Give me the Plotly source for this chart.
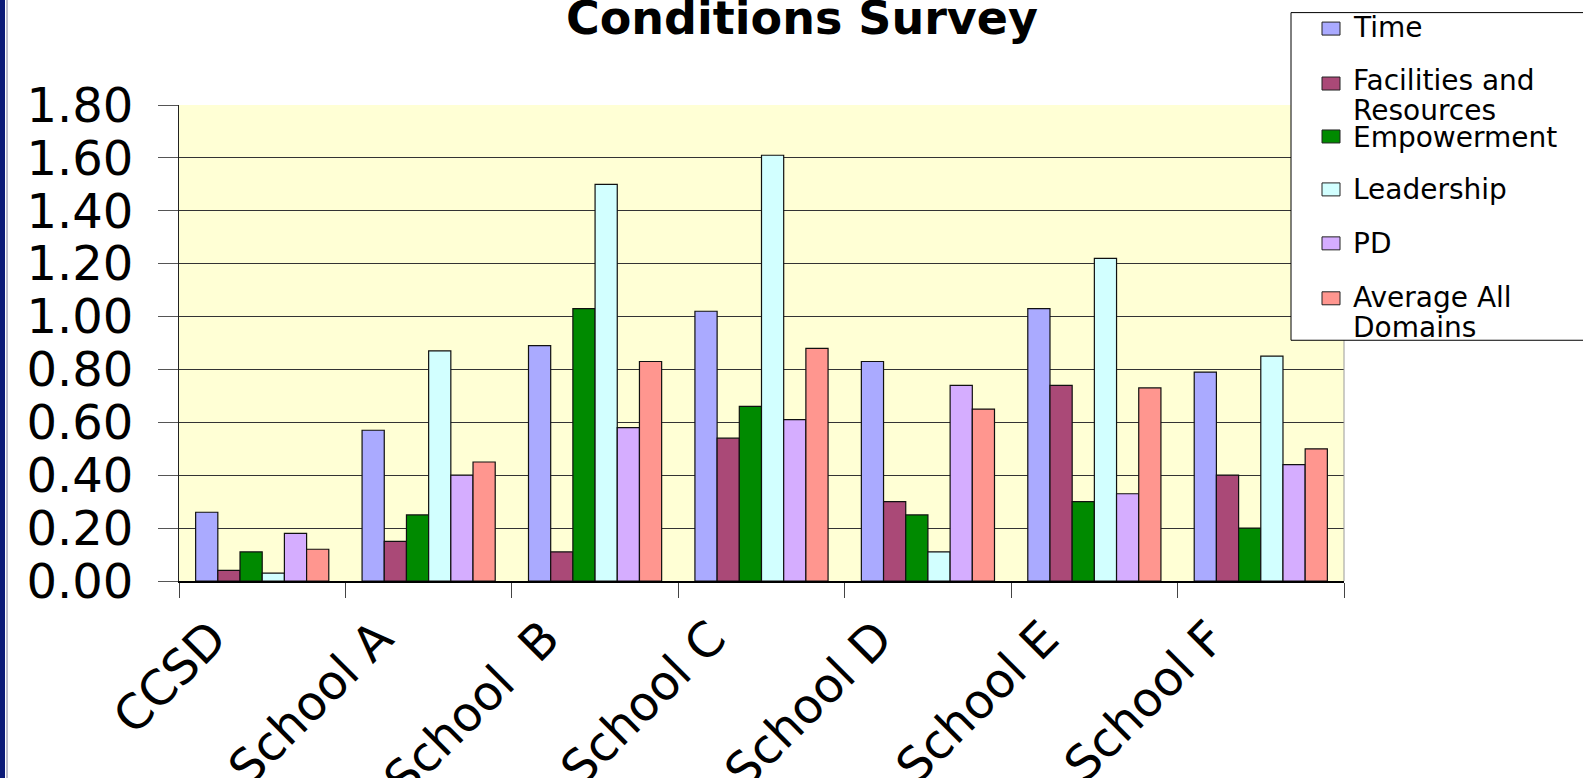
import plotly.graph_objects as go

categories = ["CCSD", "School A", "School\u00a0 B", "School C", "School D", "School E", "School F"]
series_names = ["Time", "Facilities and Resources", "Empowerment", "Leadership", "PD", "Average All Domains"]
legend_lines = [["Time"], ["Facilities and", "Resources"], ["Empowerment"], ["Leadership"], ["PD"], ["Average All", "Domains"]]

time_vals = [0.26, 0.57, 0.89, 1.02, 0.83, 1.03, 0.79]
facilities_vals = [0.04, 0.15, 0.11, 0.54, 0.30, 0.74, 0.40]
empowerment_vals = [0.11, 0.25, 1.03, 0.66, 0.25, 0.30, 0.20]
leadership_vals = [0.03, 0.87, 1.50, 1.61, 0.11, 1.22, 0.85]
pd_vals = [0.18, 0.40, 0.58, 0.61, 0.74, 0.33, 0.44]
average_vals = [0.12, 0.45, 0.83, 0.88, 0.65, 0.73, 0.50]

y_ticks = [0.0, 0.2, 0.4, 0.6, 0.8, 1.0, 1.2, 1.4, 1.6, 1.8]
colors = ["#AAAAFF", "#AA4977", "#008A00", "#D2FFFF", "#D5ADFF", "#FF968F"]
all_vals = [time_vals, facilities_vals, empowerment_vals, leadership_vals, pd_vals, average_vals]

W, H = 1583, 778
L, R, T, B = 179, 1344, 104.5, 581
pw, ph = R - L, B - T


def px(X):
    return (X - L) / pw


def py(Y):
    return (B - Y) / ph


fig = go.Figure()
for name, vals, col in zip(series_names, all_vals, colors):
    fig.add_trace(go.Bar(
        x=categories, y=vals, name=name,
        marker=dict(color=col, line=dict(color="#111111", width=1.2)),
        showlegend=False,
    ))

shapes = []
annotations = []

# left navy border
shapes.append(dict(type="rect", xref="paper", yref="paper", x0=px(-5), x1=px(5), y0=py(H + 5), y1=py(-5),
                   fillcolor="#0B1A78", line=dict(width=0), layer="above"))
shapes.append(dict(type="line", xref="paper", yref="paper", x0=px(7), x1=px(7), y0=py(H + 5), y1=py(-5),
                   line=dict(color="#7A7A9A", width=1), layer="above"))
# right plot border
shapes.append(dict(type="line", xref="paper", yref="paper", x0=1, x1=1, y0=0, y1=1,
                   line=dict(color="#9A9A9A", width=1), layer="above"))

# legend box
shapes.append(dict(type="rect", xref="paper", yref="paper", x0=px(1291), x1=px(1700), y0=py(340), y1=py(12),
                   fillcolor="white", line=dict(color="black", width=1), layer="above"))
marker_centers = [28, 83, 136, 189, 243, 298]
line_centers = [[27], [80, 110], [137], [189], [243], [297, 327]]
for col, mc, lines, lcs in zip(colors, marker_centers, legend_lines, line_centers):
    shapes.append(dict(type="rect", xref="paper", yref="paper", x0=px(1322), x1=px(1340),
                       y0=py(mc + 6.5), y1=py(mc - 6.5), fillcolor=col,
                       line=dict(color="#222222", width=1), layer="above"))
    for txt, lc in zip(lines, lcs):
        annotations.append(dict(xref="paper", yref="paper", x=px(1351), y=py(lc), text=txt,
                                showarrow=False, xanchor="left", yanchor="middle",
                                font=dict(family="DejaVu Sans", size=28, color="black")))

# title
annotations.append(dict(xref="paper", yref="paper", x=px(802), y=py(17), text="<b>Conditions Survey</b>",
                        showarrow=False, xanchor="center", yanchor="middle",
                        font=dict(family="DejaVu Sans", size=46, color="black")))

fig.update_layout(
    width=W, height=H,
    margin=dict(l=L, r=W - R, t=T, b=H - B, autoexpand=False),
    paper_bgcolor="white", plot_bgcolor="#FFFFD5",
    barmode="group", bargap=0.2, bargroupgap=0,
    showlegend=False,
    shapes=shapes, annotations=annotations,
    font=dict(family="DejaVu Sans", color="black"),
)
fig.update_yaxes(
    range=[0, 1.8], tickvals=y_ticks, tickformat=".2f",
    showgrid=True, gridcolor="#333333", gridwidth=1.3,
    showline=True, linecolor="#222222", linewidth=1,
    ticks="outside", ticklen=20, tickcolor="#555555",
    ticklabelstandoff=15,
    tickfont=dict(family="DejaVu Sans", size=48, color="black"),
    zeroline=False,
)
fig.update_xaxes(
    showgrid=False, showline=True, linecolor="black", linewidth=1.5,
    ticks="outside", ticklen=15, tickcolor="#444444", tickson="boundaries",
    tickangle=-45, ticklabelstandoff=8, ticklabelshift=-50,
    tickfont=dict(family="DejaVu Sans", size=48, color="black"),
)

fig.write_html("out.html", config={"displayModeBar": False},
               post_script="document.body.style.margin='0';document.body.style.overflow='hidden';")
